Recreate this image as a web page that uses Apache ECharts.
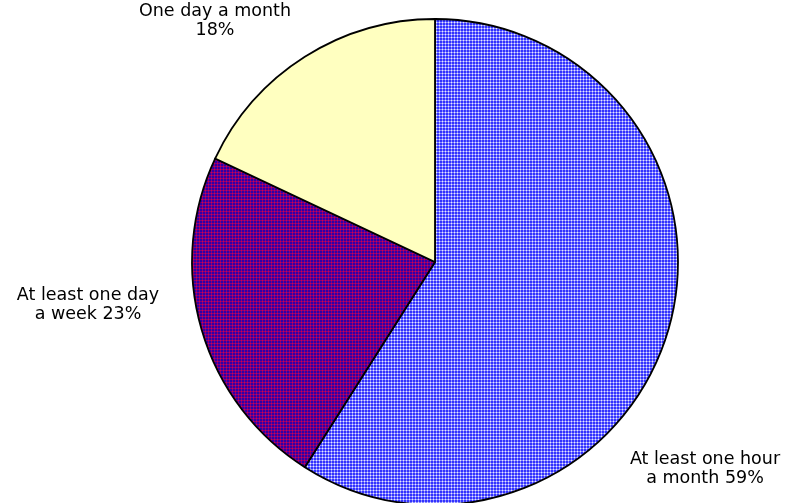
<!DOCTYPE html>
<html lang="en">
<head>
  <meta charset="UTF-8">
  <title>Pie</title>
  <style>
    html, body { margin: 0; padding: 0; background: #fff; }
    #chart { width: 785px; height: 503px; }
  </style>
</head>
<body>
  <div id="chart"></div>
  <script src="https://cdn.jsdelivr.net/npm/echarts@6/dist/echarts.min.js"></script>
  <script>
    // data
    var categories = ['At least one hour\na month', 'At least one day\na week', 'One day a month'];
    var values = [59, 23, 18];

    // small tiled patterns like the original hatch fills
    function makeTile(base, line, cross) {
      var c = document.createElement('canvas');
      c.width = 3; c.height = 3;
      var ctx = c.getContext('2d');
      ctx.fillStyle = base;
      ctx.fillRect(0, 0, 3, 3);
      ctx.fillStyle = line;
      ctx.fillRect(0, 1, 3, 1);
      ctx.fillRect(1, 0, 1, 3);
      ctx.fillStyle = cross;
      ctx.fillRect(1, 1, 1, 1);
      return { image: c, repeat: 'repeat' };
    }
    var fills = [
      makeTile('#3232ff', '#8c8cff', '#e8e8ff'),
      makeTile('#3000a8', '#8a0078', '#d00050'),
      '#ffffc0'
    ];

    // where each label sits (center of text block)
    var labelPos = [[705, 469], [88, 305], [215, 21]];

    var chart = echarts.init(document.getElementById('chart'));
    chart.setOption({
      animation: false,
      series: [{
        type: 'pie',
        center: [435, 262],
        radius: 243,
        startAngle: 90,
        clockwise: true,
        data: values.map(function (v, i) {
          return { value: v, name: categories[i], itemStyle: { color: fills[i] } };
        }),
        itemStyle: { borderColor: '#000', borderWidth: 1.8 },
        label: {
          show: true,
          position: 'outside',
          formatter: function (p) {
            return p.dataIndex === 2 ? p.name + '\n' + p.value + '%' : p.name + ' ' + p.value + '%';
          },
          color: '#000',
          fontFamily: '"DejaVu Sans", sans-serif',
          fontSize: 17.5,
          lineHeight: 19,
          align: 'center',
          overflow: 'none',
          width: 300
        },
        labelLine: { show: false },
        labelLayout: function (p) {
          var pos = labelPos[p.dataIndex];
          return { x: pos[0], y: pos[1], align: 'center', verticalAlign: 'middle', hideOverlap: false };
        },
        emphasis: { disabled: true }
      }]
    });
  </script>
</body>
</html>
